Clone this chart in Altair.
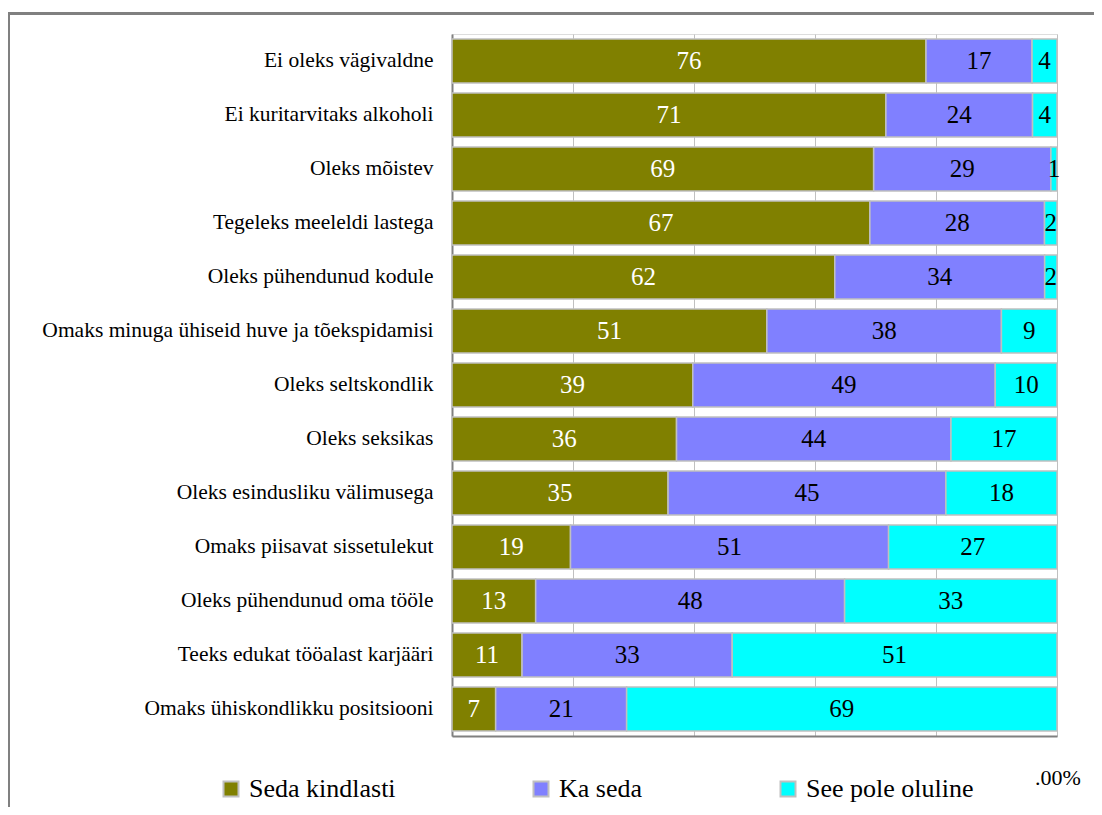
import altair as alt
import pandas as pd

categories = [
    "Ei oleks vägivaldne",
    "Ei kuritarvitaks alkoholi",
    "Oleks mõistev",
    "Tegeleks meeleldi lastega",
    "Oleks pühendunud kodule",
    "Omaks minuga ühiseid huve ja tõekspidamisi",
    "Oleks seltskondlik",
    "Oleks seksikas",
    "Oleks esindusliku välimusega",
    "Omaks piisavat sissetulekut",
    "Oleks pühendunud oma tööle",
    "Teeks edukat tööalast karjääri",
    "Omaks ühiskondlikku positsiooni",
]
series = ["Seda kindlasti", "Ka seda", "See pole oluline"]
seda_kindlasti = [76, 71, 69, 67, 62, 51, 39, 36, 35, 19, 13, 11, 7]
ka_seda = [17, 24, 29, 28, 34, 38, 49, 44, 45, 51, 48, 33, 21]
see_pole_oluline = [4, 4, 1, 2, 2, 9, 10, 17, 18, 27, 33, 51, 69]
colors = ["#808000", "#8080FF", "#00FFFF"]
label_colors = ["white", "black", "black"]
corner_label = [".00%"]

rows = []
for i, c in enumerate(categories):
    for j, vals in enumerate([seda_kindlasti, ka_seda, see_pole_oluline]):
        rows.append({"cat": c, "series": series[j], "order": j,
                     "value": vals[i], "tcolor": label_colors[j]})
df = pd.DataFrame(rows)

FONT = "Liberation Serif"

base = alt.Chart(df).transform_stack(
    stack="value", groupby=["cat"], as_=["x0", "x1"], offset="normalize",
    sort=[alt.SortField(field="order", order="ascending")],
).transform_calculate(mid="(datum.x0 + datum.x1) / 2")

xscale = alt.Scale(domain=[0, 1], nice=False, zero=True)
yenc = alt.Y(
    "cat:N", sort=categories, title=None,
    scale=alt.Scale(paddingInner=0.185, paddingOuter=0.0925),
    axis=alt.Axis(labelFont=FONT, labelFontSize=21.5, labelColor="black",
                  labelPadding=19, ticks=False, domainColor="#808080",
                  domainWidth=2, labelLimit=600, grid=False),
)

bars = base.mark_bar(stroke="#c0c0c0", strokeWidth=1.5).encode(
    x=alt.X("x0:Q", scale=xscale,
            axis=alt.Axis(values=[0, 0.2, 0.4, 0.6, 0.8, 1], labels=False,
                          ticks=False, title=None, grid=True,
                          gridColor="#c0c0c0", gridWidth=1,
                          domainColor="#808080", domainWidth=2)),
    x2="x1:Q",
    y=yenc,
    color=alt.Color(
        "series:N", sort=series,
        scale=alt.Scale(domain=series, range=colors),
        legend=alt.Legend(
            title=None, orient="none", legendX=-234, legendY=742,
            direction="horizontal", symbolType="square", symbolSize=225,
            symbolStrokeColor="#c0c0c0", symbolStrokeWidth=2,
            symbolOpacity=1, labelFont=FONT, labelFontSize=26,
            labelColor="black", labelOffset=5, columnPadding=132,
            labelLimit=400,
        ),
    ),
)

text = base.mark_text(font=FONT, fontSize=25, baseline="middle", align="center").encode(
    x=alt.X("mid:Q", scale=xscale),
    y=alt.Y("cat:N", sort=categories),
    text=alt.Text("value:Q"),
    color=alt.Color("tcolor:N", scale=None, legend=None),
)

corner = alt.Chart(pd.DataFrame({"t": corner_label})).mark_text(
    font=FONT, fontSize=22, baseline="alphabetic", align="center", dx=1, color="black"
).encode(x=alt.datum(1.0), y=alt.value(751), text="t:N")

frame_top = alt.Chart(pd.DataFrame({"a": [0]})).mark_rule(
    color="#808080", strokeWidth=3
).encode(x=alt.value(-445), x2=alt.value(660), y=alt.value(-20.5))

frame_left = alt.Chart(pd.DataFrame({"a": [0]})).mark_rule(
    color="#808080", strokeWidth=3
).encode(x=alt.value(-443.5), y=alt.value(-22), y2=alt.value(800))

chart = alt.layer(bars, text, corner, frame_top, frame_left).resolve_scale(
    color="independent"
).properties(
    width=605, height=702,
    autosize=alt.AutoSizeParams(type="none"),
    padding={"left": 444, "top": 26, "right": 37, "bottom": 71},
).configure_view(stroke="#c0c0c0", strokeWidth=2).configure(background="white")

chart.save("out.html", embed_options={"renderer": "svg", "actions": False})
